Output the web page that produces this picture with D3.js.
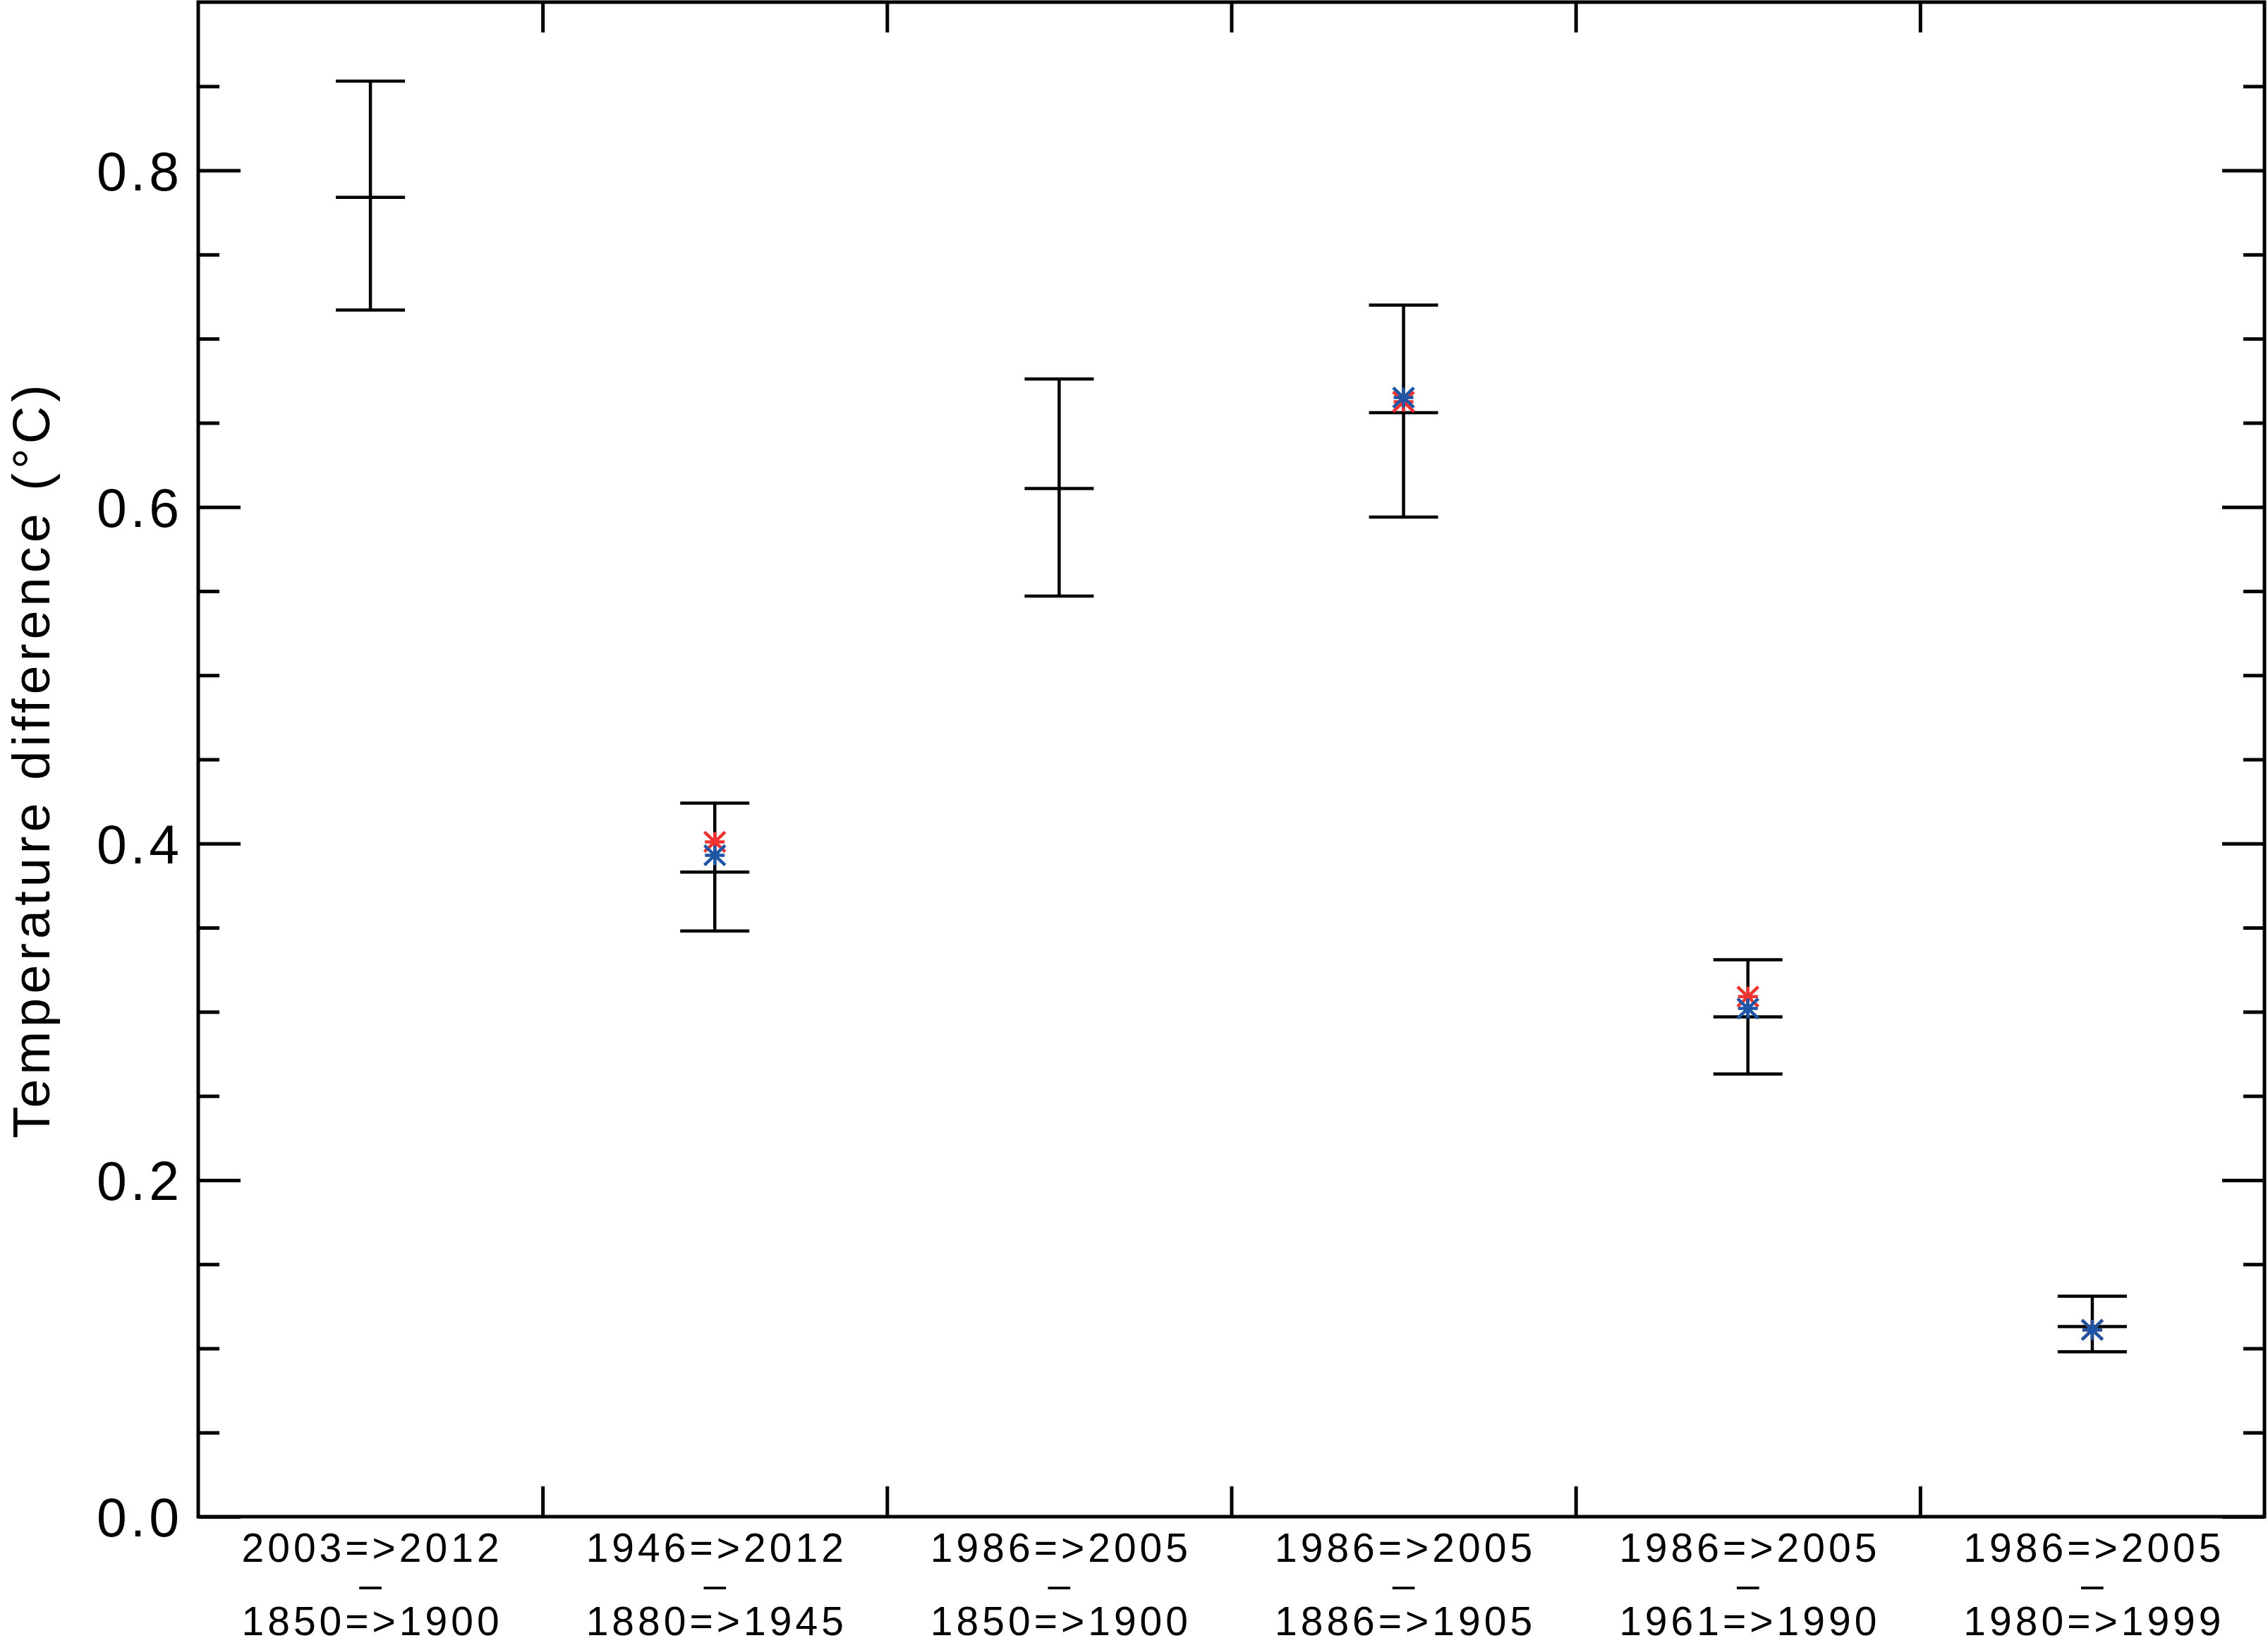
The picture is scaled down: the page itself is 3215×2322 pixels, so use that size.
<!DOCTYPE html>
<html>
<head>
<meta charset="utf-8">
<script src="https://cdn.jsdelivr.net/npm/d3@7"></script>
<style>
  body { margin: 0; background: #fff; }
  text { font-family: "Liberation Sans", Arial, sans-serif; fill: #000; }
</style>
</head>
<body>
<div id="chart"></div>
<script>
// Size
const WIDTH = 3215;
const HEIGHT = 2322;
const LEFT = 281;
const RIGHT = 3210;
const TOP = 3;
const BOTTOM = 2150;

// Data
const periodsA = ["2003=>2012", "1946=>2012", "1986=>2005", "1986=>2005", "1986=>2005", "1986=>2005"];
const periodsB = ["1850=>1900", "1880=>1945", "1850=>1900", "1886=>1905", "1961=>1990", "1980=>1999"];
const central = [0.784, 0.383, 0.611, 0.656, 0.297, 0.113];
const upper = [0.853, 0.424, 0.676, 0.720, 0.331, 0.131];
const lower = [0.717, 0.348, 0.547, 0.594, 0.263, 0.098];
const redStars = [null, 0.401, null, 0.6625, 0.309, 0.111];
const blueStars = [null, 0.393, null, 0.665, 0.302, 0.111];
const majorTicks = [0.0, 0.2, 0.4, 0.6, 0.8];
const minorTicks = [0.05, 0.1, 0.15, 0.25, 0.3, 0.35, 0.45, 0.5, 0.55, 0.65, 0.7, 0.75, 0.85];

// SVG
const svg = d3
  .select("#chart")
  .append("svg")
  .attr("width", WIDTH)
  .attr("height", HEIGHT);

svg.append("rect").attr("width", WIDTH).attr("height", HEIGHT).attr("fill", "#fff");

// Scales
const x = d3.scaleBand().domain(d3.range(periodsA.length)).range([LEFT, RIGHT]);
const xEdge = d3.scaleLinear().domain([0, periodsA.length]).range([LEFT, RIGHT]);
const y = d3.scaleLinear().domain([0, 0.9]).range([BOTTOM, TOP]);
const cx = (i) => x(i) + x.bandwidth() / 2;

// Asterisk marker (like IDL psym=2)
const asterisk = {
  draw(context, size) {
    const r = Math.sqrt(size) / 2;
    context.moveTo(-r, 0);
    context.lineTo(r, 0);
    context.moveTo(0, -r);
    context.lineTo(0, r);
    context.moveTo(-r * 1.05, -r);
    context.lineTo(r * 1.05, r);
    context.moveTo(-r * 1.05, r);
    context.lineTo(r * 1.05, -r);
  },
};

// Axes
const axisStyle = (g) => {
  g.select(".domain").remove();
  g.selectAll(".tick line").attr("stroke-width", 5);
};

svg
  .append("g")
  .attr("transform", "translate(" + LEFT + ",0)")
  .call(
    d3.axisLeft(y)
      .tickValues(majorTicks)
      .tickSize(-60)
      .tickPadding(22)
      .tickFormat(d3.format(".1f"))
  )
  .call(axisStyle)
  .selectAll("text")
  .attr("font-size", 77)
  .attr("letter-spacing", 5)
  .attr("dy", "0.36em");

svg
  .append("g")
  .attr("transform", "translate(" + LEFT + ",0)")
  .call(d3.axisLeft(y).tickValues(minorTicks).tickSize(-30).tickFormat(""))
  .call(axisStyle);

svg
  .append("g")
  .attr("transform", "translate(" + RIGHT + ",0)")
  .call(d3.axisRight(y).tickValues(majorTicks).tickSize(-60).tickFormat(""))
  .call(axisStyle);

svg
  .append("g")
  .attr("transform", "translate(" + RIGHT + ",0)")
  .call(d3.axisRight(y).tickValues(minorTicks).tickSize(-30).tickFormat(""))
  .call(axisStyle);

svg
  .append("g")
  .attr("transform", "translate(0," + BOTTOM + ")")
  .call(d3.axisBottom(xEdge).tickValues([1, 2, 3, 4, 5]).tickSize(-43).tickFormat(""))
  .call(axisStyle);

svg
  .append("g")
  .attr("transform", "translate(0," + TOP + ")")
  .call(d3.axisTop(xEdge).tickValues([1, 2, 3, 4, 5]).tickSize(-43).tickFormat(""))
  .call(axisStyle);

// Category labels, three lines each
const xLabels = svg
  .append("g")
  .attr("transform", "translate(0," + BOTTOM + ")")
  .call(d3.axisBottom(x).tickSize(0).tickFormat(""));
xLabels.select(".domain").remove();

const labelText = xLabels
  .selectAll(".tick text")
  .attr("font-size", 57)
  .attr("letter-spacing", 5)
  .attr("y", 0)
  .attr("dy", 0);

labelText.each(function (d) {
  const t = d3.select(this);
  const lines = [periodsA[d], "\u2013", periodsB[d]];
  lines.forEach((s, k) => {
    t.append("tspan")
      .attr("x", 2.5)
      .attr("y", 64 + k * 52)
      .text(s);
  });
});

// Frame
svg
  .append("rect")
  .attr("x", LEFT)
  .attr("y", TOP)
  .attr("width", RIGHT - LEFT)
  .attr("height", BOTTOM - TOP)
  .attr("fill", "none")
  .attr("stroke", "#000")
  .attr("stroke-width", 5);

// Y title
svg
  .append("text")
  .attr("transform", "translate(70," + (TOP + BOTTOM) / 2 + ") rotate(-90)")
  .attr("text-anchor", "middle")
  .attr("font-size", 74)
  .attr("letter-spacing", 6)
  .text("Temperature difference (\u00B0C)");

// Error bars
const CAP = 49;
const bars = svg
  .append("g")
  .attr("stroke", "#000")
  .attr("stroke-width", 4.5)
  .selectAll("g")
  .data(central)
  .enter()
  .append("g");

bars
  .append("line")
  .attr("x1", (d, i) => cx(i))
  .attr("x2", (d, i) => cx(i))
  .attr("y1", (d, i) => y(upper[i]))
  .attr("y2", (d, i) => y(lower[i]));

[upper, central, lower].forEach((arr) => {
  bars
    .append("line")
    .attr("x1", (d, i) => cx(i) - CAP)
    .attr("x2", (d, i) => cx(i) + CAP)
    .attr("y1", (d, i) => y(arr[i]))
    .attr("y2", (d, i) => y(arr[i]));
});

// Stars
const star = d3.symbol().type(asterisk).size(28 * 28);

const drawStars = (values, color) => {
  svg
    .append("g")
    .selectAll("path")
    .data(values.map((v, i) => ({ v, i })).filter((d) => d.v !== null))
    .enter()
    .append("path")
    .attr("transform", (d) => "translate(" + cx(d.i) + "," + y(d.v) + ")")
    .attr("d", star)
    .attr("fill", "none")
    .attr("stroke", color)
    .attr("stroke-width", 4.5);
};

drawStars(redStars, "#ee3330");
drawStars(blueStars, "#1e55a5");
</script>
</body>
</html>
